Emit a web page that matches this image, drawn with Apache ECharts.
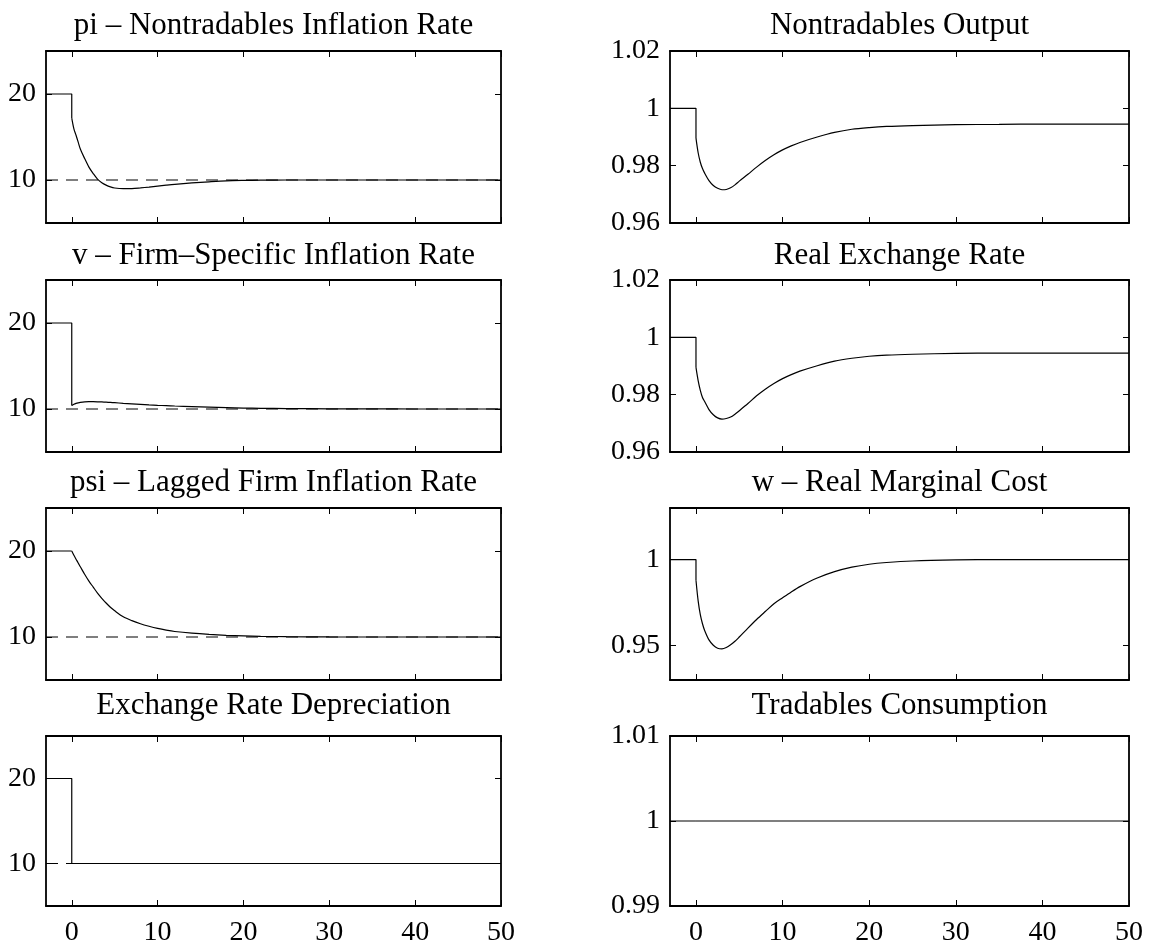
<!DOCTYPE html>
<html>
<head>
<meta charset="utf-8">
<title>Impulse responses</title>
<script src="https://cdn.jsdelivr.net/npm/echarts@6/dist/echarts.min.js"></script>
<style>
html, body { margin: 0; padding: 0; background: #fff; }
#main { width: 1152px; height: 947px; }
</style>
</head>
<body>
<div id="main"></div>
<script type="text/javascript">
// time axis, 0 appears twice so the jump on impact is a vertical step
var t = [-3, 0, 0, 0.25, 0.5, 0.75, 1, 1.5, 2, 2.5, 3, 3.5, 4, 4.5, 5, 6, 7, 8, 9, 10, 11, 12, 14, 16, 18, 20, 22, 25, 30, 35, 40, 50];

// left column: inflation rates (percent)
var pi  = [20, 20, 17.2, 15.95, 15.2, 14.4, 13.6, 12.5, 11.5, 10.75, 10.1, 9.68, 9.4, 9.2, 9.07, 8.99, 9.0, 9.08, 9.18, 9.29, 9.4, 9.5, 9.66, 9.79, 9.9, 9.95, 9.98, 10, 10, 10, 10, 10];
var v   = [20, 20, 10.4, 10.55, 10.65, 10.72, 10.77, 10.83, 10.85, 10.85, 10.84, 10.82, 10.79, 10.76, 10.73, 10.66, 10.6, 10.54, 10.48, 10.43, 10.39, 10.35, 10.28, 10.22, 10.16, 10.11, 10.08, 10.05, 10.02, 10.01, 10, 10];
var psi = [20, 20, 20, 19.5, 19.05, 18.6, 18.17, 17.3, 16.5, 15.8, 15.1, 14.5, 13.95, 13.46, 13.05, 12.35, 11.9, 11.54, 11.25, 11.0, 10.8, 10.64, 10.44, 10.3, 10.2, 10.13, 10.08, 10.04, 10.01, 10, 10, 10];
var dep = [20, 20, 10, 10, 10, 10, 10, 10, 10, 10, 10, 10, 10, 10, 10, 10, 10, 10, 10, 10, 10, 10, 10, 10, 10, 10, 10, 10, 10, 10, 10, 10];

// right column: real variables (relative to old steady state)
var yN  = [1, 1, 0.9896, 0.9845, 0.9812, 0.979, 0.9774, 0.9748, 0.9731, 0.9721, 0.9716, 0.9717, 0.9723, 0.9733, 0.9746, 0.977, 0.9795, 0.9818, 0.9838, 0.9855, 0.9869, 0.9881, 0.99, 0.9916, 0.9927, 0.9933, 0.9937, 0.994, 0.9943, 0.9944, 0.9945, 0.9945];
var rer = [1, 1, 0.9895, 0.9849, 0.9815, 0.979, 0.9776, 0.9748, 0.973, 0.9719, 0.9715, 0.9717, 0.9722, 0.9732, 0.9744, 0.9769, 0.9796, 0.9819, 0.9839, 0.9856, 0.987, 0.9882, 0.9901, 0.9917, 0.9927, 0.9934, 0.9938, 0.9941, 0.9944, 0.9945, 0.9945, 0.9945];
var w   = [1, 1, 0.988, 0.976, 0.968, 0.9627, 0.9588, 0.9533, 0.9502, 0.9485, 0.9481, 0.9489, 0.9505, 0.9525, 0.955, 0.9602, 0.9652, 0.9698, 0.9743, 0.9778, 0.9812, 0.9843, 0.9893, 0.993, 0.9956, 0.9973, 0.9983, 0.9992, 0.9998, 1, 1, 1];
var cT  = [1, 1, 1, 1, 1, 1, 1, 1, 1, 1, 1, 1, 1, 1, 1, 1, 1, 1, 1, 1, 1, 1, 1, 1, 1, 1, 1, 1, 1, 1, 1, 1];

// new steady-state inflation (dashed line)
var target = 10;

// panels in row order: left, right
var titles = ['pi \u2013 Nontradables Inflation Rate', 'Nontradables Output',
              'v \u2013 Firm\u2013Specific Inflation Rate', 'Real Exchange Rate',
              'psi \u2013 Lagged Firm Inflation Rate', 'w \u2013 Real Marginal Cost',
              'Exchange Rate Depreciation', 'Tradables Consumption'];
var values = [pi, yN, v, rer, psi, w, dep, cT];
var yRange = [[5, 25], [0.96, 1.02], [5, 25], [0.96, 1.02], [5, 25], [0.93, 1.03], [5, 25], [0.99, 1.01]];
var yTicks = [[10, 20], [0.96, 0.98, 1, 1.02], [10, 20], [0.96, 0.98, 1, 1.02], [10, 20], [0.95, 1], [10, 20], [0.99, 1, 1.01]];
var xRange = [-3, 50];
var xTicks = [0, 10, 20, 30, 40, 50];

var font = '"Liberation Serif", "Times New Roman", serif';
var colLeft = [46, 670], colWidth = [455, 459];
var rowTop = [51, 280, 508, 736], rowHeight = 172;
var titleTop = [10, 240, 467, 690];

var myChart = echarts.init(document.getElementById('main'));

function fmt(val) { return String(parseFloat(val.toFixed(4))); }

function axisBase(i) {
    return {
        gridIndex: i,
        type: 'value',
        axisLine: { show: true, onZero: false, lineStyle: { color: '#000', width: 1.8 } },
        splitLine: { show: false }
    };
}

// index where the post-impact path starts (second t = 0)
var jump = 2;

var grid = [], xAxis = [], yAxis = [], series = [], title = [];
for (var i = 0; i < values.length; i++) {
    var col = i % 2, row = Math.floor(i / 2);
    grid.push({ left: colLeft[col], top: rowTop[row], width: colWidth[col], height: rowHeight });
    title.push({
        text: titles[i], left: colLeft[col] + colWidth[col] / 2, top: titleTop[row],
        textAlign: 'center', padding: 0,
        textStyle: { fontFamily: font, fontSize: 31, fontWeight: 'normal', color: '#000' }
    });

    ['bottom', 'top'].forEach(function (pos) {
        var ax = axisBase(i);
        ax.position = pos;
        ax.min = xRange[0];
        ax.max = xRange[1];
        ax.axisTick = { show: true, inside: true, length: 6, customValues: xTicks, lineStyle: { color: '#000', width: 1 } };
        ax.axisLabel = { show: pos === 'bottom' && row === 3, customValues: xTicks, margin: 13,
                         color: '#000', fontFamily: font, fontSize: 28 };
        xAxis.push(ax);
    });
    ['left', 'right'].forEach(function (pos) {
        var ax = axisBase(i);
        ax.position = pos;
        ax.min = yRange[i][0];
        ax.max = yRange[i][1];
        ax.axisTick = { show: true, inside: true, length: 6, customValues: yTicks[i], lineStyle: { color: '#000', width: 1 } };
        ax.axisLabel = { show: pos === 'left', customValues: yTicks[i], margin: 10, formatter: fmt,
                         color: '#000', fontFamily: font, fontSize: 28 };
        yAxis.push(ax);
    });

    // dashed steady state only on the inflation panels
    if (col === 0) {
        series.push({
            type: 'line', xAxisIndex: 2 * i, yAxisIndex: 2 * i,
            data: [[xRange[0], target], [xRange[1], target]],
            showSymbol: false, silent: true,
            lineStyle: { color: '#000', width: 1.1, type: [12, 8] }
        });
    }
    var pts = t.map(function (x, k) { return [x, values[i][k]]; });
    // before the shock plus the step on impact
    series.push({
        type: 'line', xAxisIndex: 2 * i, yAxisIndex: 2 * i,
        data: pts.slice(0, jump + 1),
        showSymbol: false,
        lineStyle: { color: '#000', width: 1.2 }
    });
    // adjustment path after impact
    series.push({
        type: 'line', xAxisIndex: 2 * i, yAxisIndex: 2 * i,
        data: pts.slice(jump),
        showSymbol: false, smooth: 0.3,
        lineStyle: { color: '#000', width: 1.2 }
    });
}

var option = {
    backgroundColor: '#fff',
    animation: false,
    title: title,
    grid: grid,
    xAxis: xAxis,
    yAxis: yAxis,
    series: series
};

myChart.setOption(option);
</script>
</body>
</html>
